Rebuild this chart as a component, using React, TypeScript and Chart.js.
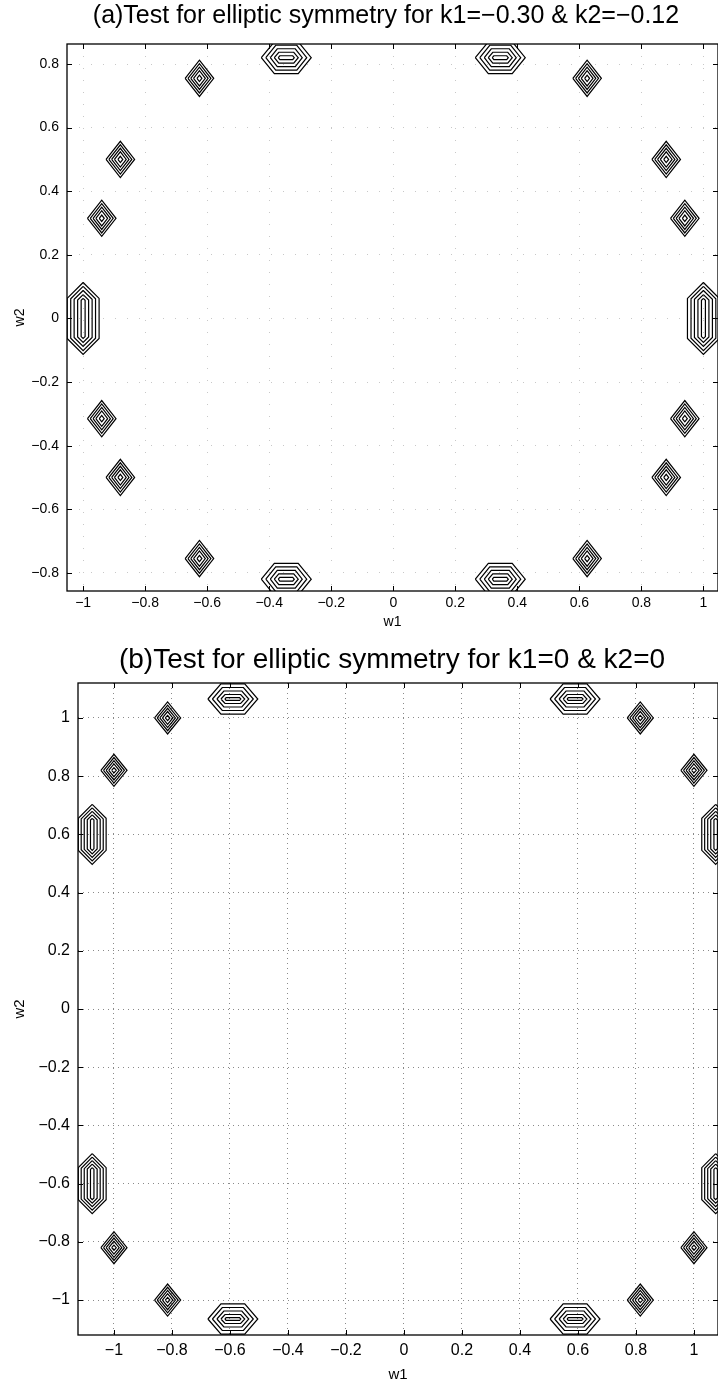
import React, { useEffect, useRef } from 'react';
import { Chart, registerables } from 'chart.js';

Chart.register(...registerables);

// ---------- panel (a): k1 = −0.30, k2 = −0.12 ----------
const TITLE_A = '(a)Test for elliptic symmetry for k1=\u22120.30 & k2=\u22120.12';
const W1_TICKS_A = [-1, -0.8, -0.6, -0.4, -0.2, 0, 0.2, 0.4, 0.6, 0.8, 1];
const W2_TICKS_A = [-0.8, -0.6, -0.4, -0.2, 0, 0.2, 0.4, 0.6, 0.8];
const W1_RANGE_A = [-1.052, 1.047];
const W2_RANGE_A = [-0.857, 0.863];

// contour peak locations (w1, w2)
const DIAMOND_W1_A = [-0.625, 0.625, -0.88, 0.88, -0.94, 0.94, -0.94, 0.94, -0.88, 0.88, -0.625, 0.625];
const DIAMOND_W2_A = [0.755, 0.755, 0.5, 0.5, 0.315, 0.315, -0.315, -0.315, -0.5, -0.5, -0.755, -0.755];
const HEXH_W1_A = [-0.345, 0.345, -0.345, 0.345];
const HEXH_W2_A = [0.82, 0.82, -0.82, -0.82];
const HEXV_W1_A = [-1.0, 1.0];
const HEXV_W2_A = [0, 0];

// contour rings: [half-width, half-height, tip inset]
const DIAMOND_RINGS_A = [
  [0.046, 0.057],
  [0.037, 0.046],
  [0.028, 0.035],
  [0.019, 0.024],
  [0.008, 0.01],
];
const HEXH_RINGS_A = [
  [0.0805, 0.05, 0.042],
  [0.066, 0.039, 0.032],
  [0.0515, 0.028, 0.0225],
  [0.0386, 0.017, 0.0145],
  [0.0258, 0.006, 0.005],
];
const HEXV_RINGS_A = [
  [0.0515, 0.113, 0.05],
  [0.04, 0.101, 0.039],
  [0.029, 0.088, 0.028],
  [0.0177, 0.075, 0.017],
  [0.0064, 0.063, 0.006],
];

// ---------- panel (b): k1 = 0, k2 = 0 ----------
const TITLE_B = '(b)Test for elliptic symmetry for k1=0 & k2=0';
const W1_TICKS_B = [-1, -0.8, -0.6, -0.4, -0.2, 0, 0.2, 0.4, 0.6, 0.8, 1];
const W2_TICKS_B = [-1, -0.8, -0.6, -0.4, -0.2, 0, 0.2, 0.4, 0.6, 0.8, 1];
const W1_RANGE_B = [-1.124, 1.083];
const W2_RANGE_B = [-1.12, 1.12];

const DIAMOND_W1_B = [-0.815, 0.815, -1.0, 1.0, -1.0, 1.0, -0.815, 0.815];
const DIAMOND_W2_B = [1.0, 1.0, 0.82, 0.82, -0.82, -0.82, -1.0, -1.0];
const HEXH_W1_B = [-0.59, 0.59, -0.59, 0.59];
const HEXH_W2_B = [1.065, 1.065, -1.065, -1.065];
const HEXV_W1_B = [-1.075, 1.075, -1.075, 1.075];
const HEXV_W2_B = [0.6, 0.6, -0.6, -0.6];

const DIAMOND_RINGS_B = [
  [0.045, 0.055],
  [0.036, 0.044],
  [0.027, 0.033],
  [0.018, 0.022],
  [0.008, 0.009],
];
const HEXH_RINGS_B = [
  [0.086, 0.052, 0.045],
  [0.0705, 0.0395, 0.034],
  [0.055, 0.0275, 0.024],
  [0.041, 0.0155, 0.014],
  [0.0275, 0.005, 0.0045],
];
const HEXV_RINGS_B = [
  [0.048, 0.103, 0.048],
  [0.038, 0.091, 0.038],
  [0.0275, 0.079, 0.0275],
  [0.017, 0.067, 0.017],
  [0.006, 0.055, 0.006],
];

const FONT = "'Liberation Sans', Arial, Helvetica, sans-serif";

type Pt = { x: number; y: number };

const diamondRing = (cx: number, cy: number, r: number[]): Pt[] => [
  { x: cx - r[0], y: cy },
  { x: cx, y: cy + r[1] },
  { x: cx + r[0], y: cy },
  { x: cx, y: cy - r[1] },
  { x: cx - r[0], y: cy },
];

// hexagon with pointed left/right ends
const hexHRing = (cx: number, cy: number, r: number[]): Pt[] => [
  { x: cx - r[0], y: cy },
  { x: cx - r[0] + r[2], y: cy + r[1] },
  { x: cx + r[0] - r[2], y: cy + r[1] },
  { x: cx + r[0], y: cy },
  { x: cx + r[0] - r[2], y: cy - r[1] },
  { x: cx - r[0] + r[2], y: cy - r[1] },
  { x: cx - r[0], y: cy },
];

// hexagon with pointed top/bottom ends
const hexVRing = (cx: number, cy: number, r: number[]): Pt[] => [
  { x: cx, y: cy + r[1] },
  { x: cx + r[0], y: cy + r[1] - r[2] },
  { x: cx + r[0], y: cy - r[1] + r[2] },
  { x: cx, y: cy - r[1] },
  { x: cx - r[0], y: cy - r[1] + r[2] },
  { x: cx - r[0], y: cy + r[1] - r[2] },
  { x: cx, y: cy + r[1] },
];

function contourSets(
  xs: number[],
  ys: number[],
  rings: number[][],
  ring: (cx: number, cy: number, r: number[]) => Pt[]
) {
  const out: any[] = [];
  xs.forEach((cx, i) => {
    rings.forEach((r) => {
      out.push({
        data: ring(cx, ys[i], r),
        showLine: true,
        borderColor: '#000',
        borderWidth: 1.2,
        pointRadius: 0,
        tension: 0,
      });
    });
  });
  return out;
}

const fmt = (v: number) => {
  const s = String(Math.round(v * 100) / 100);
  return s.replace('-', '\u2212');
};

// axis box with inward tick marks on all four sides
const framePlugin = {
  id: 'frameTicks',
  afterDraw(chart: any) {
    const { ctx, chartArea: a, scales } = chart;
    const L = 5;
    ctx.save();
    ctx.strokeStyle = '#000';
    ctx.lineWidth = 1.3;
    ctx.strokeRect(a.left, a.top, a.right - a.left, a.bottom - a.top);
    ctx.lineWidth = 1;
    ctx.beginPath();
    scales.x.ticks.forEach((t: any) => {
      const px = Math.round(scales.x.getPixelForValue(t.value)) + 0.5;
      ctx.moveTo(px, a.bottom);
      ctx.lineTo(px, a.bottom - L);
      ctx.moveTo(px, a.top);
      ctx.lineTo(px, a.top + L);
    });
    scales.y.ticks.forEach((t: any) => {
      const py = Math.round(scales.y.getPixelForValue(t.value)) + 0.5;
      ctx.moveTo(a.left, py);
      ctx.lineTo(a.left + L, py);
      ctx.moveTo(a.right, py);
      ctx.lineTo(a.right - L, py);
    });
    ctx.stroke();
    ctx.restore();
  },
};

// panel heading, centred over the axes
const headingPlugin = {
  id: 'panelHeading',
  afterDraw(chart: any, _args: any, opts: any) {
    const { ctx } = chart;
    ctx.save();
    ctx.font = `${opts.size}px ${FONT}`;
    ctx.fillStyle = '#000';
    ctx.textAlign = 'center';
    ctx.textBaseline = 'middle';
    ctx.fillText(opts.text, opts.x, opts.y);
    ctx.restore();
  },
};

interface PanelProps {
  width: number;
  height: number;
  title: string;
  titleSize: number;
  titleX: number;
  titleY: number;
  plotTop: number;
  w1Ticks: number[];
  w2Ticks: number[];
  w1Range: number[];
  w2Range: number[];
  yAxisWidth: number;
  xAxisHeight: number;
  tickSize: number;
  xTickPad: number;
  labelSize: number;
  xTitlePad: number;
  yTitlePad: number;
  gridColor: string;
  gridDash: number[];
  datasets: any[];
}

function Panel(p: PanelProps) {
  const ref = useRef<HTMLCanvasElement | null>(null);
  useEffect(() => {
    if (!ref.current) return;
    const chart = new Chart(ref.current, {
      type: 'scatter',
      data: { datasets: p.datasets },
      options: {
        animation: false,
        responsive: false,
        devicePixelRatio: 1,
        layout: { padding: { top: p.plotTop, left: 0, right: 0, bottom: 0 } },
        plugins: {
          legend: { display: false },
          tooltip: { enabled: false },
          title: { display: false },
          panelHeading: { text: p.title, size: p.titleSize, x: p.titleX, y: p.titleY },
        },
        scales: {
          x: {
            type: 'linear',
            min: p.w1Range[0],
            max: p.w1Range[1],
            afterBuildTicks: (s: any) => {
              s.ticks = p.w1Ticks.map((v) => ({ value: v }));
            },
            afterFit: (s: any) => {
              s.height = p.xAxisHeight;
              s.paddingLeft = 0;
              s.paddingRight = 0;
            },
            ticks: {
              color: '#000',
              font: { family: FONT, size: p.tickSize },
              padding: p.xTickPad,
              maxRotation: 0,
              autoSkip: false,
              callback: (v: any) => fmt(Number(v)),
            },
            grid: { color: p.gridColor, lineWidth: 1, drawTicks: false },
            border: { display: false, dash: p.gridDash },
            title: {
              display: true,
              text: 'w1',
              color: '#000',
              font: { family: FONT, size: p.labelSize },
              padding: { top: 0, bottom: p.xTitlePad },
            },
          },
          y: {
            type: 'linear',
            min: p.w2Range[0],
            max: p.w2Range[1],
            afterBuildTicks: (s: any) => {
              s.ticks = p.w2Ticks.map((v) => ({ value: v }));
            },
            afterFit: (s: any) => {
              s.width = p.yAxisWidth;
              s.paddingTop = 0;
              s.paddingBottom = 0;
            },
            ticks: {
              color: '#000',
              font: { family: FONT, size: p.tickSize },
              padding: 8,
              autoSkip: false,
              callback: (v: any) => fmt(Number(v)),
            },
            grid: { color: p.gridColor, lineWidth: 1, drawTicks: false },
            border: { display: false, dash: p.gridDash },
            title: {
              display: true,
              text: 'w2',
              color: '#000',
              font: { family: FONT, size: p.labelSize },
              padding: { top: p.yTitlePad, bottom: 0 },
            },
          },
        },
      } as any,
      plugins: [framePlugin, headingPlugin],
    });
    return () => chart.destroy();
  }, []);
  return (
    <canvas
      ref={ref}
      width={p.width}
      height={p.height}
      style={{ display: 'block', width: p.width, height: p.height }}
    />
  );
}

export default function App() {
  useEffect(() => {
    document.body.style.margin = '0';
    document.body.style.background = '#fff';
  }, []);

  const setsA = [
    ...contourSets(DIAMOND_W1_A, DIAMOND_W2_A, DIAMOND_RINGS_A, diamondRing),
    ...contourSets(HEXH_W1_A, HEXH_W2_A, HEXH_RINGS_A, hexHRing),
    ...contourSets(HEXV_W1_A, HEXV_W2_A, HEXV_RINGS_A, hexVRing),
  ];
  const setsB = [
    ...contourSets(DIAMOND_W1_B, DIAMOND_W2_B, DIAMOND_RINGS_B, diamondRing),
    ...contourSets(HEXH_W1_B, HEXH_W2_B, HEXH_RINGS_B, hexHRing),
    ...contourSets(HEXV_W1_B, HEXV_W2_B, HEXV_RINGS_B, hexVRing),
  ];

  return (
    <div style={{ width: 718, background: '#fff', overflow: 'hidden' }}>
      <Panel
        width={718}
        height={640}
        title={TITLE_A}
        titleSize={25}
        titleX={386}
        titleY={16}
        plotTop={44}
        w1Ticks={W1_TICKS_A}
        w2Ticks={W2_TICKS_A}
        w1Range={W1_RANGE_A}
        w2Range={W2_RANGE_A}
        yAxisWidth={67}
        xAxisHeight={49}
        tickSize={14}
        xTickPad={4}
        labelSize={14}
        xTitlePad={9}
        yTitlePad={12}
        gridColor="#c8c8c8"
        gridDash={[1, 11]}
        datasets={setsA}
      />
      <Panel
        width={718}
        height={745}
        title={TITLE_B}
        titleSize={28}
        titleX={392}
        titleY={20}
        plotTop={43}
        w1Ticks={W1_TICKS_B}
        w2Ticks={W2_TICKS_B}
        w1Range={W1_RANGE_B}
        w2Range={W2_RANGE_B}
        yAxisWidth={78}
        xAxisHeight={50}
        tickSize={16}
        xTickPad={6}
        labelSize={15}
        xTitlePad={1}
        yTitlePad={11}
        gridColor="#8a8a8a"
        gridDash={[1, 4]}
        datasets={setsB}
      />
    </div>
  );
}
